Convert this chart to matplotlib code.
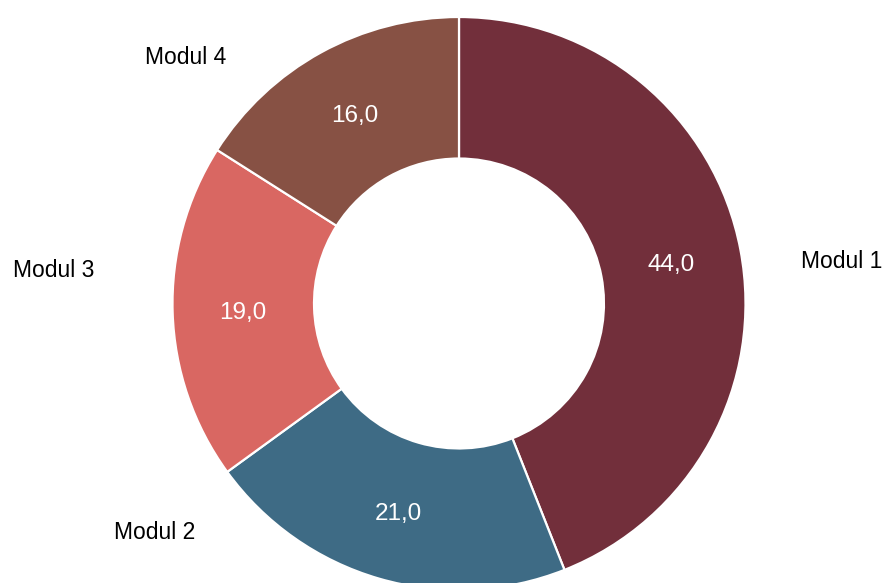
import numpy as np
import matplotlib
matplotlib.use("Agg")
import matplotlib.pyplot as plt

plt.rcParams["font.family"] = ["Liberation Sans", "DejaVu Sans"]

# data
labels = ["Modul 1", "Modul 2", "Modul 3", "Modul 4"]
values = [44.0, 21.0, 19.0, 16.0]
colors = ["#722F3B", "#3E6B85", "#D96762", "#875144"]

# outer label placement (angle in deg, distance in radii) - layout only
label_ang = [6.2, 216.9, 175.3, 138.0]
label_dist = [1.345, 1.33, 1.42, 1.285]

W, H = 884, 583
cx, cy, R = 459, H - 303.5, 286.5

fig = plt.figure(figsize=(W / 100, H / 100), dpi=100)
ax = fig.add_axes([0, 0, 1, 1])

wedges, _, autotexts = ax.pie(
    values, colors=colors, startangle=90, counterclock=False,
    center=(cx, cy), radius=R, autopct=lambda p: f"{p:.1f}".replace(".", ","),
    pctdistance=0.755, wedgeprops=dict(width=R * 0.494, edgecolor="white", linewidth=1.6),
    textprops=dict(color="white", fontsize=17.5), frame=True)
for t in autotexts:
    t.set_va("center_baseline")
ax.set_xlim(0, W); ax.set_ylim(0, H)
ax.set_aspect("equal")
ax.axis("off")

for lab, a, d in zip(labels, label_ang, label_dist):
    t = np.deg2rad(a)
    ax.text(cx + R * d * np.cos(t), cy + R * d * np.sin(t), lab,
            ha="center", va="center", fontsize=16.5, color="black")

fig.savefig("out.png", dpi=100)
